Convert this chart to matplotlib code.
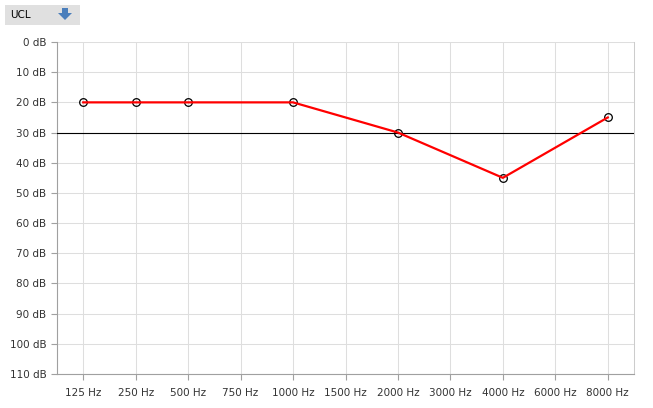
import matplotlib
matplotlib.use("Agg")
import matplotlib.pyplot as plt
from matplotlib.patches import Rectangle, Polygon
import numpy as np

FONT_SIZE = 7.5
W, H = 653, 408

freq_labels = ["125 Hz", "250 Hz", "500 Hz", "750 Hz", "1000 Hz", "1500 Hz",
               "2000 Hz", "3000 Hz", "4000 Hz", "6000 Hz", "8000 Hz"]
measured_freqs = ["125 Hz", "250 Hz", "500 Hz", "1000 Hz", "2000 Hz", "4000 Hz", "8000 Hz"]
measured_db = [20, 20, 20, 20, 30, 45, 25]
ucl_level = 30
db_ticks = list(range(0, 111, 10))

fig = plt.figure(figsize=(W / 100, H / 100), dpi=100)
ax = fig.add_axes([57 / W, 1 - 374 / H, (634 - 57) / W, (374 - 42) / H])

x = [freq_labels.index(f) for f in measured_freqs]

ax.axhline(ucl_level, color="black", linewidth=0.8, zorder=3)
ax.plot(x, measured_db, linestyle="none", marker="o", markersize=5.5,
        markerfacecolor="none", markeredgecolor="black", markeredgewidth=0.9, zorder=4)
ax.plot(x, measured_db, color="#ff0000", linewidth=1.6, zorder=5)

ax.set_xlim(-0.5, len(freq_labels) - 0.5)
ax.set_ylim(110, 0)
ax.set_xticks(range(len(freq_labels)))
ax.set_xticklabels(freq_labels)
ax.set_yticks(db_ticks)
ax.set_yticklabels([f"{v} dB" for v in db_ticks])

ax.grid(True, color="#dedede", linewidth=0.75)
ax.set_axisbelow(True)
for side in ["left", "bottom"]:
    ax.spines[side].set_color("#a0a0a0")
    ax.spines[side].set_linewidth(0.8)
ax.spines["right"].set_color("#cccccc")
ax.spines["right"].set_linewidth(0.75)
ax.spines["top"].set_visible(False)
ax.tick_params(axis="both", colors="#a0a0a0", labelcolor="#333333",
               labelsize=FONT_SIZE, length=4, width=0.8)
ax.tick_params(axis="x", pad=6)

# UCL button in the corner
fig.patches.append(Rectangle((5 / W, 1 - 25 / H), 75 / W, 20 / H,
                             transform=fig.transFigure, facecolor="#e0e0e0",
                             edgecolor="none"))
fig.text(10 / W, 1 - 15 / H, "UCL", fontsize=FONT_SIZE, color="black", va="center")
arrow = [(62, 8), (68, 8), (68, 13), (72, 13), (65, 20), (58, 13), (62, 13)]
fig.patches.append(Polygon([(px / W, 1 - py / H) for px, py in arrow],
                           transform=fig.transFigure, facecolor="#4a7ebb",
                           edgecolor="none"))

fig.savefig("out.png", dpi=100)
